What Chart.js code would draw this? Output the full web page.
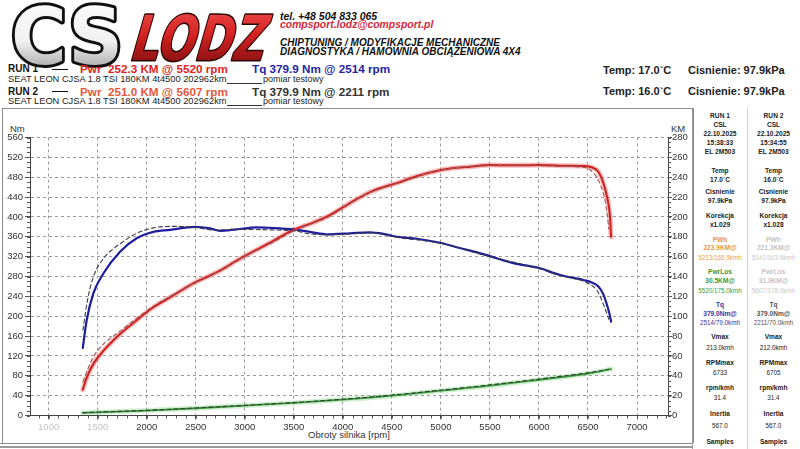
<!DOCTYPE html>
<html><head><meta charset="utf-8">
<script src="https://cdn.jsdelivr.net/npm/chart.js@4.4.1/dist/chart.umd.min.js"></script>
<style>
html,body{margin:0;padding:0;background:#fff;width:800px;height:449px;overflow:hidden;position:relative;font-family:"Liberation Sans",Arial,sans-serif;}
.t{position:absolute;white-space:nowrap;line-height:1;}
.hb{font-weight:bold;font-style:italic;}
.pc{position:absolute;white-space:nowrap;line-height:1;text-align:center;transform:translateX(-50%);color:#222;}
</style></head><body>

<!-- logo -->
<svg style="position:absolute;left:0;top:0" width="280" height="72">
<defs>
<linearGradient id="gcs" x1="0" y1="0" x2="0" y2="1">
<stop offset="0" stop-color="#ffffff"/><stop offset="0.55" stop-color="#f0f0f0"/><stop offset="1" stop-color="#8a8a8a"/></linearGradient>
<linearGradient id="gl" x1="0" y1="0" x2="0" y2="1">
<stop offset="0" stop-color="#f25050"/><stop offset="0.45" stop-color="#d42222"/><stop offset="1" stop-color="#6e0a0a"/></linearGradient>
</defs>
<text x="11" y="64" font-family="DejaVu Sans" font-weight="bold" font-size="78" textLength="112" lengthAdjust="spacingAndGlyphs" fill="url(#gcs)" stroke="#111" stroke-width="6" stroke-linejoin="round" paint-order="stroke">CS</text>
<text transform="translate(128,60) skewX(-16)" font-family="DejaVu Sans" font-weight="bold" font-size="62" textLength="134" lengthAdjust="spacingAndGlyphs" fill="url(#gl)" stroke="#2a0505" stroke-width="3" stroke-linejoin="round" paint-order="stroke">LODZ</text>
</svg>

<div class="t hb" style="left:280px;top:11px;font-size:10.5px;color:#111">tel. +48 504 833 065</div>
<div class="t hb" style="left:280px;top:19.8px;font-size:10.4px;color:#d8283c">compsport.lodz@compsport.pl</div>
<div class="t hb" style="left:280px;top:37.5px;font-size:10px;color:#111">CHIPTUNING / MODYFIKACJE MECHANICZNE</div>
<div class="t hb" style="left:280px;top:46.5px;font-size:10px;color:#111">DIAGNOSTYKA / HAMOWNIA OBCIĄŻENIOWA 4X4</div>

<div class="t" style="left:8px;top:64.2px;font-size:10px;font-weight:bold;color:#111">RUN 1</div>
<div style="position:absolute;left:52px;top:68.5px;width:16px;border-top:1.5px solid #111"></div>
<div class="t" style="left:80px;top:63.4px;font-size:11.7px;font-weight:bold;color:#e02424">Pwr&nbsp; 252.3 KM @ 5520 rpm</div>
<div class="t" style="left:252px;top:63.4px;font-size:11.7px;font-weight:bold;color:#2424a8">Tq 379.9 Nm @ 2514 rpm</div>
<div class="t" style="left:8px;top:75.1px;font-size:9.3px;color:#222">SEAT LEON CJSA 1.8 TSI 180KM 4t4500 202962km</div>
<div style="position:absolute;left:227px;top:83px;width:35px;border-top:1px solid #333"></div>
<div class="t" style="left:263px;top:75.1px;font-size:9px;color:#222">pomiar testowy</div>

<div class="t" style="left:8px;top:86.5px;font-size:10px;font-weight:bold;color:#111">RUN 2</div>
<div style="position:absolute;left:52px;top:90.5px;width:16px;border-top:1.5px solid #111"></div>
<div class="t" style="left:80px;top:85.6px;font-size:11.7px;font-weight:bold;color:#e4583e">Pwr&nbsp; 251.0 KM @ 5607 rpm</div>
<div class="t" style="left:252px;top:85.6px;font-size:11.7px;font-weight:bold;color:#333">Tq 379.9 Nm @ 2211 rpm</div>
<div class="t" style="left:8px;top:96.6px;font-size:9.3px;color:#222">SEAT LEON CJSA 1.8 TSI 180KM 4t4500 202962km</div>
<div style="position:absolute;left:227px;top:104.5px;width:35px;border-top:1px solid #333"></div>
<div class="t" style="left:263px;top:96.6px;font-size:9px;color:#222">pomiar testowy</div>

<div class="t" style="left:603px;top:64.7px;font-size:11px;font-weight:bold;color:#222">Temp: 17.0`C</div>
<div class="t" style="left:688px;top:64.7px;font-size:11px;font-weight:bold;color:#222">Cisnienie: 97.9kPa</div>
<div class="t" style="left:603px;top:86.4px;font-size:11px;font-weight:bold;color:#222">Temp: 16.0`C</div>
<div class="t" style="left:688px;top:86.4px;font-size:11px;font-weight:bold;color:#222">Cisnienie: 97.9kPa</div>

<!-- frame -->
<div style="position:absolute;left:2px;top:108px;width:690px;height:334px;border:1px solid #8a8a8a;border-bottom:none"></div>
<div style="position:absolute;left:0;top:442.5px;width:693px;height:0;border-top:1.5px solid #8a8a8a"></div>
<div style="position:absolute;left:0;top:445.5px;width:693px;height:0;border-top:2px solid #9a9a9a"></div>
<div style="position:absolute;left:692px;top:108px;width:0;height:341px;border-left:1.5px solid #9a9a9a"></div>
<div style="position:absolute;left:746.5px;top:108px;width:0;height:341px;border-left:1px solid #d0d0d0"></div>

<div class="t" style="left:10px;top:123.5px;font-size:9.5px;color:#333">Nm</div>
<div class="t" style="left:671px;top:123.5px;font-size:9.5px;color:#333">KM</div>
<div class="t" style="left:349px;top:429.5px;font-size:9.5px;color:#333;transform:translateX(-50%)">Obroty silnika [rpm]</div>

<canvas id="c" width="693" height="333" style="position:absolute;left:0;top:110px"></canvas>
<div id="panel"></div>

<script>
// ---------- data ----------
const xTicks = [1000,1500,2000,2500,3000,3500,4000,4500,5000,5500,6000,6500,7000];
const nmTicks = [0,40,80,120,160,200,240,280,320,360,400,440,480,520,560];
const kmTicks = [0,20,40,60,80,100,120,140,160,180,200,220,240,260,280];

const rpmRun1 = [1348,1388,1456,1558,1728,1898,2068,2238,2493,2646,2748,2918,3122,3258,3495,3665,3852,4073,4277,4413,4549,4753,4991,5161,5297,5500,5738,6000,6215,6452,6538,6606,6657,6701,6725,6735];
const torqueRun1 = [136,192,246,286,330,357,370,374,380,377,372,375,379,378,375,370,365,367,369,366,360,356,348,339,332,321,307,297,283,273,268,260,244,218,200,189];
const powerRun1 = [26,38,52,65,82,96,109,119,134,141,146,156,167,174,187,193,201,214,225,230,234,241,247,249.5,250.6,252.3,252,252.3,251.6,251.3,250,245.5,234,217,200,180];

const rpmRun2 = [1350,1396,1456,1558,1660,1729,1898,2068,2238,2493,2680,2918,3258,3495,3665,3852,4073,4277,4549,4991,5500,6000,6215,6452,6520,6589,6630,6673,6695,6712];
const torqueRun2 = [172,232,279,316,336,346,367,378,381,379,373.5,375,374,372,366,364,366,368,359,347,320,296,282,271,264,253,237,216,204,194];
const powerRun2 = [34,46,59,72,80,85,98,110,120,134,142.5,156,173,185.5,192.5,200,213.5,224.5,233.5,247,251.5,251.5,251,250,247.5,240,231.5,217,203,188];

const rpmLoss1 = [1348,2000,2500,3000,3500,4000,4500,5000,5500,6000,6500,6735];
const lossRun1 = [2.7,5,7.3,10,12.7,16,20,25,30,36,42.3,46.7];
const rpmLoss2 = [1350,2000,2500,3000,3500,4000,4500,5000,5500,6000,6500,6712];
const lossRun2 = [2.9,5.2,7.5,10.2,13,16.4,20.5,25.5,30.8,36.6,43,46.5];

const X_MIN = 810, X_MAX = 7316;

// ---------- panel text ----------
const panelYs = [116,125,134.3,143.3,152.3,171.7,180.7,192.3,201,216.7,225.7,240,248.7,257.7,272.7,281.7,291,305,314.3,323.3,337.7,348.3,363.3,373.3,388.3,398.3,414.3,425.7,442.3];
const panelRun1 = ["RUN 1","CSL","22.10.2025","15:38:33","EL 2M503","Temp","17.0`C","Cisnienie","97.9kPa","Korekcja","x1.029","PWh","223.9KM@","5213/165.9kmh","PwrLos","30.5KM@","5520/175.0kmh","Tq","379.0Nm@","2514/79.0kmh","Vmax","213.0kmh","RPMmax","6733","rpm/kmh","31.4","Inertia","567.0","Samples"];
const panelRun2 = ["RUN 2","CSL","22.10.2025","15:34:55","EL 2M503","Temp","16.0`C","Cisnienie","97.9kPa","Korekcja","x1.028","PWh","221.3KM@","5141/163.9kmh","PwrLos","31.9KM@","5607/178.0kmh","Tq","379.0Nm@","2211/70.0kmh","Vmax","212.0kmh","RPMmax","6705","rpm/kmh","31.4","Inertia","567.0","Samples"];
const panelBold = [1,1,1,1,1,1,1,1,1,1,1,1,1,0,1,1,0,1,1,0,1,0,1,0,1,0,1,0,1];
const col1Colors = {11:'#e8963c',12:'#e8963c',13:'#e8a050',14:'#3a9a3a',15:'#3a9a3a',16:'#3a9a3a',17:'#3535a5',18:'#3535a5',19:'#3535a5'};
const col2Colors = {11:'#c4c4c4',12:'#c4c4c4',13:'#c8c8c8',14:'#c4c4c4',15:'#c4c4c4',16:'#c8c8c8',17:'#555',18:'#555',19:'#555'};
(function(){
  const p = document.getElementById('panel');
  const mk = (txt, cx, y, bold, color) => {
    const d = document.createElement('div');
    d.className = 'pc';
    const fs = bold ? 6.6 : 6.3;
    d.style.left = cx + 'px';
    d.style.top = (y - fs/2) + 'px';
    d.style.fontSize = fs + 'px';
    d.style.fontWeight = bold ? 'bold' : 'normal';
    if (color) d.style.color = color;
    d.textContent = txt;
    p.appendChild(d);
  };
  panelYs.forEach((y,i) => {
    mk(panelRun1[i], 720, y, panelBold[i], col1Colors[i]);
    mk(panelRun2[i], 773.5, y, panelBold[i], col2Colors[i]);
  });
})();

// ---------- chart ----------
const pts = (xs, ys) => xs.map((x,i) => ({x, y: ys[i]}));

const minorTicks = {
  id: 'minorTicks',
  afterDraw(chart) {
    const ctx = chart.ctx, ca = chart.chartArea;
    const {x, yL, yR} = chart.scales;
    ctx.save();
    ctx.strokeStyle = '#555'; ctx.lineWidth = 1;
    ctx.beginPath();
    for (let v = Math.ceil(X_MIN/100)*100; v <= X_MAX; v += 100) {
      const px = Math.round(x.getPixelForValue(v)) + 0.5;
      ctx.moveTo(px, ca.bottom); ctx.lineTo(px, ca.bottom + 3);
    }
    for (let v = 0; v <= 560; v += 10) {
      const py = Math.round(yL.getPixelForValue(v)) + 0.5;
      ctx.moveTo(ca.left - 3, py); ctx.lineTo(ca.left, py);
    }
    for (let v = 0; v <= 280; v += 5) {
      const py = Math.round(yR.getPixelForValue(v)) + 0.5;
      ctx.moveTo(ca.right, py); ctx.lineTo(ca.right + 3, py);
    }
    ctx.stroke();
    ctx.restore();
  }
};

const base = {pointRadius: 0, fill: false, cubicInterpolationMode: 'monotone', borderJoinStyle: 'round', borderCapStyle: 'round'};
const tickFont = {family: 'Liberation Sans', size: 9.5};
const plain = v => String(v);

new Chart(document.getElementById('c'), {
  type: 'line',
  data: {
    datasets: [
      {...base, data: pts(rpmRun2, powerRun2), yAxisID: 'yR', borderColor: '#a05858', borderWidth: 1.1, borderDash: [4,3], order: 0},
      {...base, data: pts(rpmRun2, torqueRun2), yAxisID: 'yL', borderColor: '#3a3a4a', borderWidth: 1.1, borderDash: [4,3], order: 0},
      {...base, data: pts(rpmLoss2, lossRun2), yAxisID: 'yR', borderColor: '#2e3e2e', borderWidth: 1.1, borderDash: [4,3], order: 0},
      {...base, data: pts(rpmRun1, powerRun1), yAxisID: 'yR', borderColor: '#cc2020', borderWidth: 2, order: 1},
      {...base, data: pts(rpmRun1, torqueRun1), yAxisID: 'yL', borderColor: '#1e1e9c', borderWidth: 2.2, order: 1},
      {...base, data: pts(rpmLoss1, lossRun1), yAxisID: 'yR', borderColor: '#3f9a3f', borderWidth: 1.8, order: 1},
      {...base, data: pts(rpmRun1, powerRun1), yAxisID: 'yR', borderColor: 'rgba(240,110,110,0.45)', borderWidth: 5, order: 2},
      {...base, data: pts(rpmLoss1, lossRun1), yAxisID: 'yR', borderColor: 'rgba(120,210,120,0.35)', borderWidth: 5, order: 2}
    ]
  },
  options: {
    responsive: false, devicePixelRatio: 1, animation: false,
    layout: {padding: {top: 27.5, left: 0, right: 0, bottom: 0}},
    plugins: {legend: {display: false}, tooltip: {enabled: false}},
    scales: {
      x: {
        type: 'linear', min: X_MIN, max: X_MAX,
        afterBuildTicks: s => { s.ticks = xTicks.map(v => ({value: v})); },
        afterFit: s => { s.height = 27.5; },
        grid: {color: '#9a9a9a', lineWidth: 1, tickLength: 4, tickColor: '#555', tickWidth: 1},
        border: {display: true, color: '#444', width: 1, dash: [3,3]},
        ticks: {font: tickFont, callback: plain, color: c => (c.tick && c.tick.value < 2000) ? '#c4c4c4' : '#333', padding: 2, maxRotation: 0, autoSkip: false}
      },
      yL: {
        type: 'linear', position: 'left', min: 0, max: 560,
        afterBuildTicks: s => { s.ticks = nmTicks.map(v => ({value: v})); },
        afterFit: s => { s.width = 30; },
        grid: {color: '#9a9a9a', lineWidth: 1, tickLength: 5, tickColor: '#555', tickWidth: 1},
        border: {display: true, color: '#444', width: 1, dash: [3,3]},
        ticks: {font: tickFont, callback: plain, color: '#333', padding: 2, autoSkip: false}
      },
      yR: {
        type: 'linear', position: 'right', min: 0, max: 280,
        afterBuildTicks: s => { s.ticks = kmTicks.map(v => ({value: v})); },
        afterFit: s => { s.width = 25; },
        grid: {drawOnChartArea: false, tickLength: 4, tickColor: '#555', tickWidth: 1},
        border: {display: true, color: '#444', width: 1},
        ticks: {font: tickFont, callback: plain, color: '#333', padding: 0, autoSkip: false}
      }
    }
  },
  plugins: [minorTicks]
});
</script>
</body></html>
